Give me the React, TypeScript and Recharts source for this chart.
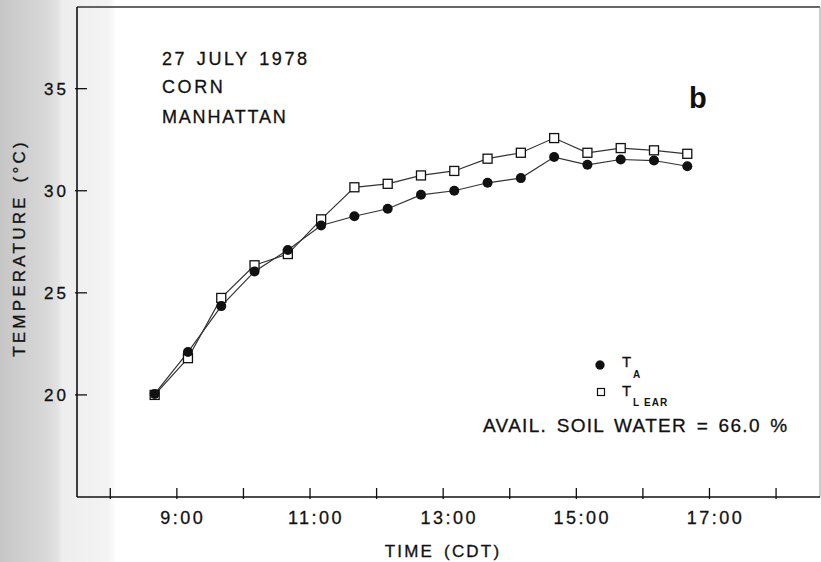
import React from 'react';
import { LineChart, Line, XAxis, YAxis, ReferenceLine } from 'recharts';

// Observation times (CDT) and measured temperatures (°C)
const times = [
  '8:40', '9:10', '9:40', '10:10', '10:40', '11:10', '11:40', '12:10', '12:40',
  '13:10', '13:40', '14:10', '14:40', '15:10', '15:40', '16:10', '16:40',
];
const airTemp = [
  20.05, 22.1, 24.35, 26.05, 27.1, 28.3, 28.75, 29.12, 29.8,
  30.0, 30.39, 30.62, 31.65, 31.27, 31.53, 31.48, 31.2,
];
const earTemp = [
  20.0, 21.8, 24.75, 26.35, 26.9, 28.6, 30.17, 30.34, 30.75,
  30.97, 31.57, 31.86, 32.58, 31.86, 32.09, 31.98, 31.81,
];

const hourTicks = [8, 9, 10, 11, 12, 13, 14, 15, 16, 17, 18];
const labeledHours = [9, 11, 13, 15, 17];
const tempTicks = [20, 25, 30, 35];
const xDomain = [7.5, 18.66];
const yDomain = [15, 39];

const toHours = (t: string) => {
  const [h, m] = t.split(':').map(Number);
  return h + m / 60;
};

const data = times.map((t, i) => ({ t: toHours(t), ta: airTemp[i], tl: earTemp[i] }));

const FONT = '"Liberation Sans", Arial, sans-serif';
const INK = '#111';
const TXT = { fontFamily: FONT, fill: INK, stroke: INK, strokeWidth: 0.3 };

const XTick = (props: any) => {
  const { x, y, payload } = props;
  const v = payload.value as number;
  return (
    <g>
      <line x1={x} x2={x} y1={y} y2={y - 11} stroke={INK} strokeWidth={1.3} />
      {labeledHours.includes(v) && (
        <text x={x + 6} y={y + 25} textAnchor="middle" fontSize={18}
          letterSpacing={2.5} {...TXT}>{`${v}:00`}</text>
      )}
    </g>
  );
};

const YTick = (props: any) => {
  const { x, y, payload } = props;
  return (
    <g>
      <line x1={x} x2={x + 12} y1={y} y2={y} stroke={INK} strokeWidth={1.3} />
      <text x={x - 6} y={y + 6} textAnchor="end" fontSize={17}
        letterSpacing={3} {...TXT}>{payload.value}</text>
    </g>
  );
};

const FilledDot = (props: any) => {
  const { cx, cy, index } = props;
  return <circle key={`a${index}`} cx={cx} cy={cy} r={5} fill="#111" />;
};

const OpenSquare = (props: any) => {
  const { cx, cy, index } = props;
  return (
    <rect key={`e${index}`} x={cx - 4.5} y={cy - 4.5} width={9} height={9}
      fill="#fff" stroke="#111" strokeWidth={1.3} />
  );
};

export default function App() {
  return (
    <div style={{ position: 'absolute', left: 0, top: 0, width: 821, height: 562, overflow: 'hidden',
      background: 'linear-gradient(to right, #c6c6c6 0px, #d8d8d8 45px, #e2e2e2 58px, #eeeeee 62px, #f3f3f3 108px, #ffffff 116px)' }}>
      <LineChart width={821} height={562} data={data}
        margin={{ top: 7, right: 1, left: 0, bottom: 35 }}>
        <XAxis dataKey="t" type="number" domain={xDomain} ticks={hourTicks} interval={0}
          allowDataOverflow tickSize={0} tickLine={false} height={30}
          axisLine={{ stroke: INK, strokeWidth: 1.6 }} tick={<XTick />} />
        <YAxis type="number" domain={yDomain} ticks={tempTicks} interval={0}
          allowDataOverflow tickSize={0} tickLine={false} width={77}
          axisLine={{ stroke: INK, strokeWidth: 1.6 }} tick={<YTick />} />
        <ReferenceLine y={yDomain[1]} stroke="#333" strokeWidth={1.4} />
        <ReferenceLine x={xDomain[1]} stroke="#aaa" strokeWidth={1.2} />
        <Line dataKey="tl" stroke="#333" strokeWidth={1.2} dot={<OpenSquare />}
          isAnimationActive={false} />
        <Line dataKey="ta" stroke="#333" strokeWidth={1.2} dot={<FilledDot />}
          isAnimationActive={false} />
      </LineChart>
      <svg width={821} height={562}
        style={{ position: 'absolute', left: 0, top: 0, pointerEvents: 'none' }}>
        <g {...TXT}>
          <text x={162} y={65} fontSize={18} letterSpacing={2.6} wordSpacing={2}>27 JULY 1978</text>
          <text x={162} y={93} fontSize={18} letterSpacing={2.6}>CORN</text>
          <text x={162} y={123} fontSize={18} letterSpacing={1.8}>MANHATTAN</text>
          <text x={689} y={108} fontSize={29} fontWeight="bold" strokeWidth={0}>b</text>

          <circle cx={600} cy={365} r={4.5} fill="#111" />
          <text x={622} y={367} fontSize={15}>T</text>
          <text x={633} y={378} fontSize={10} fontWeight="bold" strokeWidth={0}>A</text>
          <rect x={597.5} y={388.5} width={7} height={7} fill="#fff" stroke="#111" strokeWidth={1.2} />
          <text x={622} y={396} fontSize={15}>T</text>
          <text x={633} y={406} fontSize={10} fontWeight="bold" strokeWidth={0}>L</text>
          <text x={644} y={406} fontSize={10} fontWeight="bold" letterSpacing={1} strokeWidth={0}>EAR</text>

          <text x={483} y={432} fontSize={19} letterSpacing={1.3} wordSpacing={3}>AVAIL. SOIL WATER = 66.0 %</text>

          <text x={443} y={557} fontSize={17} letterSpacing={2.2} wordSpacing={3}
            textAnchor="middle">TIME (CDT)</text>
          <text x={25} y={248} fontSize={17} letterSpacing={3.2} wordSpacing={4}
            textAnchor="middle" transform="rotate(-90 25 248)">TEMPERATURE (°C)</text>
        </g>
      </svg>
    </div>
  );
}
